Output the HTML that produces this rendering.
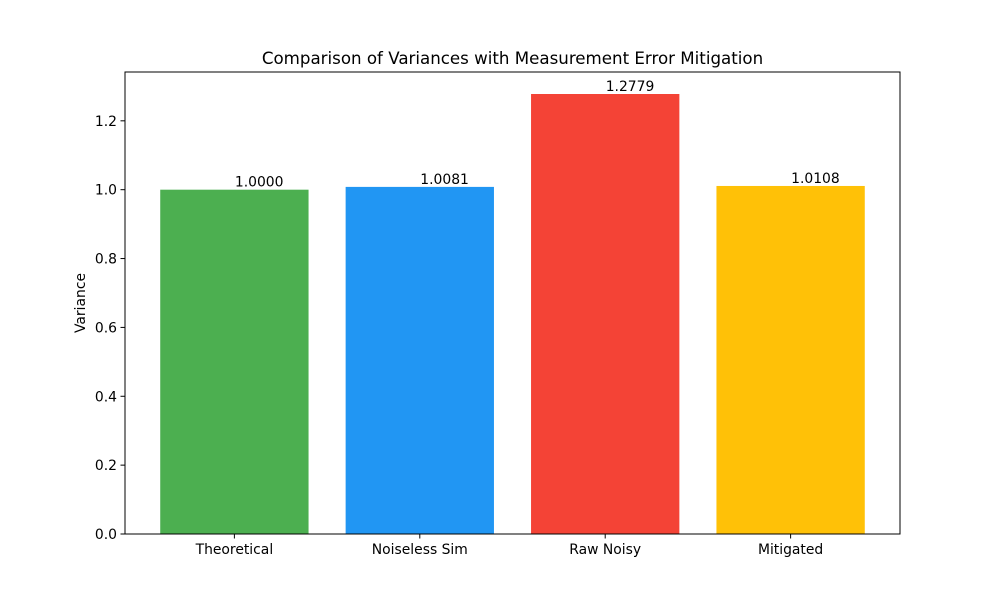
<!DOCTYPE html>
<html><head><meta charset="utf-8"><style>
body{margin:0;background:#fff;}
svg text{font-family:"DejaVu Sans","Liberation Sans",sans-serif;}
</style></head><body>
<svg id="chart" width="1000" height="600" xmlns="http://www.w3.org/2000/svg">
<rect width="1000" height="600" fill="#fff"/>
<text x="512.5" y="64" font-size="16.67" text-anchor="middle">Comparison of Variances with Measurement Error Mitigation</text>
<text transform="translate(85,303) rotate(-90)" font-size="13.9" text-anchor="middle">Variance</text>
<g id="bars"></g><g id="axes"></g>
</svg>
<script>
const categories=["Theoretical","Noiseless Sim","Raw Noisy","Mitigated"];
const values=[1.0000,1.0081,1.2779,1.0108];
const valueLabels=["1.0000","1.0081","1.2779","1.0108"];
const colors=["#4CAF50","#2196F3","#F44336","#FFC107"];
const yTicks=[0,0.2,0.4,0.6,0.8,1.0,1.2];
const yTickLabels=["0.0","0.2","0.4","0.6","0.8","1.0","1.2"];
const L=125,R=900,T=72,B=534;
const ymax=Math.max(...values)*1.05;
const xmin=-0.59,xmax=categories.length-1+0.59;
const xs=v=>L+(v-xmin)/(xmax-xmin)*(R-L);
const ys=v=>B-v/ymax*(B-T);
const NS="http://www.w3.org/2000/svg";
function mk(tag,attrs,parent,text){const e=document.createElementNS(NS,tag);for(const k in attrs)e.setAttribute(k,attrs[k]);if(text!==undefined)e.textContent=text;parent.appendChild(e);return e;}
const gb=document.getElementById('bars'),ga=document.getElementById('axes');
categories.forEach((c,i)=>{
 const x0=xs(i-0.4),x1=xs(i+0.4);
 const r=mk('rect',{x:x0,y:ys(values[i]),width:x1-x0,height:B-ys(values[i]),fill:colors[i]},gb);
 
 
 const t=mk('text',{x:xs(i)+0.5,y:ys(values[i])-3,'font-size':13.9},gb,valueLabels[i]);
 
 
 mk('line',{x1:xs(i),x2:xs(i),y1:B,y2:B+4.5,stroke:'#000','stroke-width':1},ga);
 const xl=mk('text',{x:xs(i),y:B+20,'font-size':13.9,'text-anchor':'middle'},ga,c);
 
 
});
yTicks.forEach((v,i)=>{
 mk('line',{x1:L-4.5,x2:L,y1:ys(v),y2:ys(v),stroke:'#000','stroke-width':1},ga);
 const t=mk('text',{x:L-8,y:ys(v)+5,'font-size':13.9,'text-anchor':'end'},ga,yTickLabels[i]);
 
 
});
const f=mk('rect',{x:L,y:T,width:R-L,height:B-T,fill:'none',stroke:'#000','stroke-width':1},ga);


</script>
</body></html>
